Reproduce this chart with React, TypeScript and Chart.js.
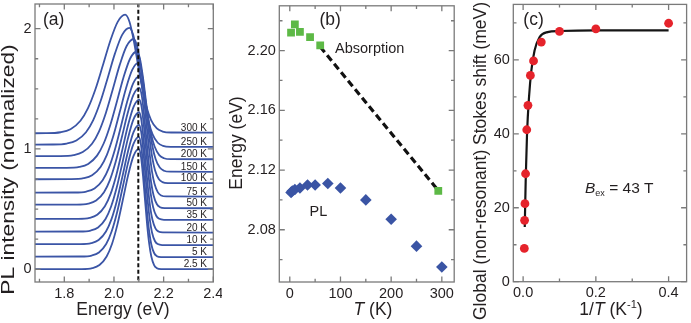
import React, { useEffect, useRef } from 'react';
import { Chart, registerables } from 'chart.js';
Chart.register(...registerables);

const FONT = '"Liberation Sans", Arial, Helvetica, sans-serif';
const TEXT = '#231f20';
const FRAME = '#7a7a7a';
const f = (s: number, it = false) => `${it ? 'italic ' : ''}${s}px ${FONT}`;

// ---------- Panel (a): PL spectra ----------
const SPEC_LABELS = ['2.5 K', '5 K', '10 K', '20 K', '35 K', '50 K', '75 K', '100 K', '150 K', '200 K', '250 K', '300 K'];
const SPEC_PEAK_E = [2.1, 2.1, 2.101, 2.101, 2.102, 2.102, 2.102, 2.099, 2.092, 2.079, 2.062, 2.045];
const SPEC_BASE_LEFT = [0, 0.105, 0.208, 0.313, 0.418, 0.537, 0.637, 0.748, 0.842, 0.94, 1.036, 1.13];
const SPEC_BASE_RIGHT = [0, 0.1, 0.2, 0.305, 0.41, 0.507, 0.604, 0.715, 0.81, 0.914, 1.017, 1.136];
const SPEC_AMPL = [1.0, 1.0, 1.0, 1.0, 1.0, 1.0, 1.0, 1.0, 1.0, 1.0, 0.99, 0.98];
const SPEC_HW_LOW = [0.072, 0.073, 0.074, 0.075, 0.077, 0.079, 0.082, 0.085, 0.089, 0.093, 0.097, 0.1];
const SPEC_HW_HIGH = [0.028, 0.028, 0.029, 0.03, 0.031, 0.032, 0.034, 0.037, 0.042, 0.047, 0.052, 0.058];
const PROFILE_U = [-3.2, -2.6, -2.2, -1.8, -1.5, -1.2, -0.9, -0.6, -0.3, 0, 0.3, 0.6, 0.9, 1.2, 1.5, 1.8, 2.2, 2.6, 3.2];
const PROFILE_V = [0.001, 0.009, 0.035, 0.106, 0.21, 0.369, 0.571, 0.779, 0.94, 1, 0.94, 0.779, 0.571, 0.369, 0.21, 0.106, 0.035, 0.009, 0.001];
const A_DASH_E = 2.098;
const A_X_TICKS = [1.8, 2.0, 2.2, 2.4];
const A_X_MINOR = [1.7, 1.9, 2.1, 2.3];
const A_Y_TICKS = [0, 1, 2];
const A_Y_MINOR = [0.25, 0.5, 0.75, 1.25, 1.5, 1.75];

// ---------- Panel (b): peak energies ----------
const PL_T = [2.5, 5, 10, 20, 35, 50, 75, 100, 150, 200, 250, 300];
const PL_E = [2.105, 2.106, 2.107, 2.108, 2.11, 2.11, 2.111, 2.108, 2.1, 2.087, 2.069, 2.055];
const ABS_T = [2.5, 10, 20, 40, 60, 293];
const ABS_E = [2.212, 2.2175, 2.2125, 2.209, 2.2035, 2.106];
const ABS_FIT_T = [60, 290];
const ABS_FIT_E = [2.2025, 2.1075];
const B_X_TICKS = [0, 100, 200, 300];
const B_X_MINOR = [50, 150, 250];
const B_Y_TICKS = [2.08, 2.12, 2.16, 2.2];
const B_Y_MINOR = [2.06, 2.1, 2.14, 2.18, 2.22];

// ---------- Panel (c): Stokes shift ----------
const INV_T = [0.0033, 0.004, 0.005, 0.0067, 0.01, 0.0133, 0.02, 0.0286, 0.05, 0.1, 0.2, 0.4];
const STOKES = [9.0, 16.6, 21.1, 29.2, 41.1, 47.7, 55.8, 59.7, 64.8, 67.7, 68.4, 69.9];
const FIT_X = [0.0045, 0.0073, 0.0108, 0.0162, 0.0226, 0.0315, 0.045, 0.067, 0.1, 0.2, 0.4];
const FIT_Y = [14.8, 28.3, 40.1, 49.9, 57.1, 62.5, 66.1, 67.5, 67.8, 68, 68];
const C_X_TICKS = [0, 0.2, 0.4];
const C_X_MINOR = [0.1, 0.3];
const C_Y_TICKS = [0, 20, 40, 60];
const C_Y_MINOR = [10, 30, 50, 70];

type Part = { t: string; font: string; dy?: number };
function drawParts(ctx: CanvasRenderingContext2D, parts: Part[], x: number, y: number, align: 'left' | 'center') {
  let total = 0;
  for (const p of parts) { ctx.font = p.font; total += ctx.measureText(p.t).width; }
  let cx = align === 'center' ? x - total / 2 : x;
  ctx.textAlign = 'left';
  ctx.textBaseline = 'alphabetic';
  for (const p of parts) {
    ctx.font = p.font;
    ctx.fillText(p.t, cx, y + (p.dy || 0));
    cx += ctx.measureText(p.t).width;
  }
}
function drawRotated(ctx: CanvasRenderingContext2D, text: string, font: string, x: number, y: number, stretch = 1) {
  ctx.save();
  ctx.translate(x, y);
  ctx.rotate(-Math.PI / 2);
  ctx.scale(stretch, 1);
  ctx.font = font;
  ctx.textAlign = 'center';
  ctx.textBaseline = 'alphabetic';
  ctx.fillText(text, 0, 0);
  ctx.restore();
}

type FrameSpec = { xMaj: number[]; xMin: number[]; yMaj: number[]; yMin: number[] };
function decoPlugin(id: string, fr: FrameSpec, offsetX: number, draw: (ctx: CanvasRenderingContext2D, chart: any) => void) {
  return {
    id,
    afterDraw(chart: any) {
      const ctx: CanvasRenderingContext2D = chart.ctx;
      const a = chart.chartArea;
      const xs = chart.scales.x;
      const ys = chart.scales.y;
      ctx.save();
      ctx.strokeStyle = FRAME;
      ctx.lineWidth = 1.3;
      ctx.beginPath();
      const seg = (x1: number, y1: number, x2: number, y2: number) => { ctx.moveTo(x1, y1); ctx.lineTo(x2, y2); };
      const MAJ = 5.5, MIN = 3.2;
      fr.xMaj.forEach(v => { const p = xs.getPixelForValue(v); seg(p, a.bottom, p, a.bottom - MAJ); seg(p, a.top, p, a.top + MAJ); });
      fr.xMin.forEach(v => { const p = xs.getPixelForValue(v); seg(p, a.bottom, p, a.bottom - MIN); seg(p, a.top, p, a.top + MIN); });
      fr.yMaj.forEach(v => { const p = ys.getPixelForValue(v); seg(a.left, p, a.left + MAJ, p); seg(a.right, p, a.right - MAJ, p); });
      fr.yMin.forEach(v => { const p = ys.getPixelForValue(v); seg(a.left, p, a.left + MIN, p); seg(a.right, p, a.right - MIN, p); });
      ctx.stroke();
      ctx.strokeRect(a.left, a.top, a.right - a.left, a.bottom - a.top);
      ctx.fillStyle = TEXT;
      ctx.translate(-offsetX, 0);
      draw(ctx, chart);
      ctx.restore();
    },
  };
}

function axisOpts(min: number, max: number, ticks: number[], fmt: (v: number) => string, size: number, isY: boolean, pad: number) {
  return {
    type: 'linear' as const,
    min,
    max,
    grid: { display: false, drawTicks: false },
    border: { display: false },
    ticks: {
      font: { family: FONT, size },
      color: TEXT,
      padding: isY ? 3.5 : 3,
      maxRotation: 0,
      autoSkip: false,
      callback: (v: any) => fmt(Number(v)),
    },
    afterBuildTicks: (s: any) => { s.ticks = ticks.map(v => ({ value: v })); },
    afterFit: (s: any) => {
      if (isY) s.width = pad; else s.height = pad;
      s.paddingTop = 0; s.paddingBottom = 0; s.paddingLeft = 0; s.paddingRight = 0;
    },
  };
}

function baseOptions(padding: any, x: any, y: any) {
  return {
    responsive: false,
    maintainAspectRatio: false,
    animation: false as const,
    layout: { padding },
    plugins: { legend: { display: false }, tooltip: { enabled: false } },
    scales: { x, y },
  };
}

const TICK_SIZE = 14.5;
const TITLE = 17.5;

// ----- config builders -----
const A_LEFT = 0, A_W = 222;
function makeA(): any {
  const datasets: any[] = [];
  datasets.push({
    data: [{ x: A_DASH_E, y: -0.2 }, { x: A_DASH_E, y: 2.3 }],
    showLine: true, borderColor: '#111', borderWidth: 2, borderDash: [4, 2.5], pointRadius: 0,
  });
  for (let i = 0; i < SPEC_LABELS.length; i++) {
    const peakVal = SPEC_BASE_RIGHT[i] + SPEC_AMPL[i];
    const pts: { x: number; y: number }[] = [{ x: 1.6, y: SPEC_BASE_LEFT[i] }];
    PROFILE_U.forEach((u, k) => {
      const low = u < 0;
      const base = low ? SPEC_BASE_LEFT[i] : SPEC_BASE_RIGHT[i];
      const x = SPEC_PEAK_E[i] + u * (low ? SPEC_HW_LOW[i] : SPEC_HW_HIGH[i]);
      pts.push({ x, y: base + (peakVal - base) * PROFILE_V[k] });
    });
    pts.push({ x: 2.5, y: SPEC_BASE_RIGHT[i] });
    datasets.push({
      data: pts, showLine: true, borderColor: '#3b55a6', borderWidth: 1.8, pointRadius: 0,
      cubicInterpolationMode: 'monotone',
    });
  }
  const opts: any = baseOptions(
    { left: 0, top: 4, right: A_W - 213.3, bottom: 0 },
    axisOpts(1.682, 2.4, A_X_TICKS, v => v.toFixed(1), TICK_SIZE, false, 41),
    axisOpts(-0.106, 2.205, A_Y_TICKS, v => String(v), TICK_SIZE, true, 35),
  );
  return {
    type: 'scatter',
    data: { datasets },
    options: opts,
    plugins: [decoPlugin('decoA', { xMaj: A_X_TICKS, xMin: A_X_MINOR, yMaj: A_Y_TICKS, yMin: A_Y_MINOR }, A_LEFT, (ctx, chart) => {
      const ys = chart.scales.y;
      ctx.font = f(10);
      ctx.textAlign = 'right';
      ctx.textBaseline = 'alphabetic';
      SPEC_LABELS.forEach((lab, i) => {
        ctx.fillText(lab, 207, ys.getPixelForValue(SPEC_BASE_RIGHT[i]) - 2);
      });
      drawParts(ctx, [{ t: '(a)', font: f(TITLE) }], 43, 24.6, 'left');
      drawParts(ctx, [{ t: 'Energy (eV)', font: f(TITLE) }], 123, 315, 'center');
      drawRotated(ctx, 'PL intensity (normalized)', f(TITLE), 14, 169.5, 1.3);
    })],
  };
}

const B_LEFT = 222, B_W = 238;
function makeB(): any {
  const datasets: any[] = [
    {
      data: ABS_T.map((t, i) => ({ x: t, y: ABS_E[i] })),
      pointStyle: 'rect', pointRadius: 5.5, backgroundColor: '#5db946', borderWidth: 0,
    },
    {
      data: PL_T.map((t, i) => ({ x: t, y: PL_E[i] })),
      pointStyle: 'rectRot', pointRadius: 5.8, backgroundColor: '#3a54a4', borderWidth: 0,
    },
    {
      data: ABS_FIT_T.map((t, i) => ({ x: t, y: ABS_FIT_E[i] })),
      showLine: true, borderColor: '#111', borderWidth: 3.2, borderDash: [7, 4], pointRadius: 0,
    },
  ];
  const opts: any = baseOptions(
    { left: 0, top: 4, right: B_LEFT + B_W - 457.7, bottom: 0 },
    axisOpts(-20.7, 324.4, B_X_TICKS, v => String(v), TICK_SIZE, false, 41),
    axisOpts(2.045, 2.23, B_Y_TICKS, v => v.toFixed(2), TICK_SIZE, true, 279.3 - B_LEFT),
  );
  return {
    type: 'scatter',
    data: { datasets },
    options: opts,
    plugins: [decoPlugin('decoB', { xMaj: B_X_TICKS, xMin: B_X_MINOR, yMaj: B_Y_TICKS, yMin: B_Y_MINOR }, B_LEFT, (ctx) => {
      drawParts(ctx, [{ t: '(b)', font: f(TITLE) }], 319.5, 24.6, 'left');
      drawParts(ctx, [{ t: 'Absorption', font: f(14.5) }], 335, 53, 'left');
      drawParts(ctx, [{ t: 'PL', font: f(14.5) }], 309.5, 216, 'left');
      drawParts(ctx, [{ t: 'T', font: f(TITLE, true) }, { t: ' (K)', font: f(TITLE) }], 373, 315, 'center');
      drawRotated(ctx, 'Energy (eV)', f(TITLE), 241.5, 143);
    })],
  };
}

const C_LEFT = 460, C_W = 231;
function makeC(): any {
  const datasets: any[] = [
    {
      data: INV_T.map((v, i) => ({ x: v, y: STOKES[i] })),
      pointStyle: 'circle', pointRadius: 4.4, backgroundColor: '#e5232b', borderWidth: 0,
    },
    {
      data: FIT_X.map((v, i) => ({ x: v, y: FIT_Y[i] })),
      showLine: true, borderColor: '#151515', borderWidth: 2.2, pointRadius: 0, cubicInterpolationMode: 'monotone',
    },
  ];
  const opts: any = baseOptions(
    { left: 0, top: 4, right: C_LEFT + C_W - 690, bottom: 0 },
    axisOpts(-0.027, 0.4495, C_X_TICKS, v => v.toFixed(1), TICK_SIZE, false, 323 - 281.7),
    axisOpts(0, 75, C_Y_TICKS, v => String(v), TICK_SIZE, true, 513.3 - C_LEFT),
  );
  return {
    type: 'scatter',
    data: { datasets },
    options: opts,
    plugins: [decoPlugin('decoC', { xMaj: C_X_TICKS, xMin: C_X_MINOR, yMaj: C_Y_TICKS, yMin: C_Y_MINOR }, C_LEFT, (ctx) => {
      drawParts(ctx, [{ t: '(c)', font: f(TITLE) }], 523.3, 24.6, 'left');
      drawParts(ctx, [
        { t: 'B', font: f(15.5, true) },
        { t: 'ex', font: f(9), dy: 3 },
        { t: ' = 43 T', font: f(15.5) },
      ], 585, 193.3, 'left');
      drawParts(ctx, [
        { t: '1/', font: f(TITLE) },
        { t: 'T', font: f(TITLE, true) },
        { t: ' (K', font: f(TITLE) },
        { t: '-1', font: f(11), dy: -7 },
        { t: ')', font: f(TITLE) },
      ], 611, 315, 'center');
      drawRotated(ctx, 'Global (non-resonant) Stokes shift (meV)', f(TITLE), 486, 161);
    })],
  };
}

function ChartCanvas({ left, width, make }: { left: number; width: number; make: () => any }) {
  const ref = useRef<HTMLCanvasElement>(null);
  useEffect(() => {
    const chart = new Chart(ref.current as HTMLCanvasElement, make());
    return () => chart.destroy();
  }, []);
  return (
    <canvas
      ref={ref}
      width={width}
      height={323}
      style={{ position: 'absolute', left, top: 0, width, height: 323 }}
    />
  );
}

export default function App() {
  return (
    <div style={{ position: 'absolute', left: 0, top: 0, width: 691, height: 323, background: '#fff', overflow: 'hidden' }}>
      <ChartCanvas left={A_LEFT} width={A_W} make={makeA} />
      <ChartCanvas left={B_LEFT} width={B_W} make={makeB} />
      <ChartCanvas left={C_LEFT} width={C_W} make={makeC} />
    </div>
  );
}
